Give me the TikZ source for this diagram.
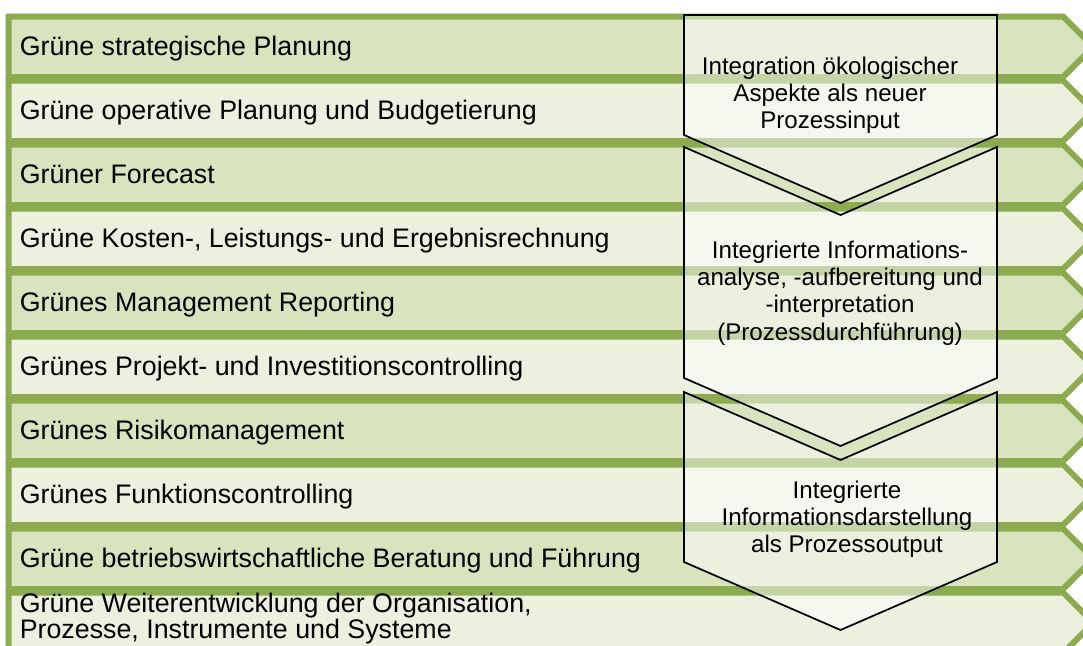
\documentclass[tikz,border=0pt]{standalone}
\usepackage{fontspec}
\setmainfont{Liberation Sans}
\definecolor{grborder}{RGB}{140,170,80}
\definecolor{grdark}{RGB}{215,228,189}
\definecolor{grlight}{RGB}{235,241,222}
\newcommand{\clines}[1]{\begin{tabular}[t]{@{}c@{}}#1\end{tabular}}
\newcommand{\llines}[1]{\begin{tabular}[t]{@{}l@{}}#1\end{tabular}}
\tikzset{
  rowbox/.style={draw=grborder, line width=4.5pt, line join=miter},
  chev/.style={draw=black, line width=1.3pt, fill=white, fill opacity=0.5, line join=miter},
  rowtext/.style={anchor=base west, inner sep=0pt, text=black,
    font=\fontsize{20.1pt}{18.75pt}\selectfont},
  chevtext/.style={anchor=base, inner sep=0pt, text=black,
    font=\fontsize{18.1pt}{20.6pt}\selectfont},
}
\begin{document}
\begin{tikzpicture}[x=0.75pt,y=-0.75pt]
\useasboundingbox (0,0) rectangle (1083,646);
\clip (0,0) rectangle (1083,646);
% row arrows
\foreach \k in {1,...,10} {
  \pgfmathsetmacro\T{16.5+64*(\k-1)}
  \pgfmathsetmacro\B{\T+60.5}
  \pgfmathsetmacro\M{\T+30.25}
  \pgfmathtruncatemacro\odd{mod(\k,2)}
  \ifnum\odd=1 \def\fc{grdark}\else\def\fc{grlight}\fi
  \draw[rowbox, fill=\fc] (8.5,\T) -- (1063,\T) -- (1093.25,\M) -- (1063,\B) -- (8.5,\B) -- cycle;
}
% row labels
\node[rowtext] (t1) at (19.5,55.5) {Grüne strategische Planung};
\node[rowtext] (t2) at (19.5,119.5) {Grüne operative Planung und Budgetierung};
\node[rowtext] (t3) at (19.5,183.5) {Grüner Forecast};
\node[rowtext] (t4) at (19.5,247.5) {Grüne Kosten-, Leistungs- und Ergebnisrechnung};
\node[rowtext] (t5) at (19.5,311.5) {Grünes Management Reporting};
\node[rowtext] (t6) at (19.5,375.5) {Grünes Projekt- und Investitionscontrolling};
\node[rowtext] (t7) at (19.5,439.5) {Grünes Risikomanagement};
\node[rowtext] (t8) at (19.5,503.5) {Grünes Funktionscontrolling};
\node[rowtext] (t9) at (19.5,567.5) {Grüne betriebswirtschaftliche Beratung und Führung};
\node[rowtext] (t10) at (19.5,612) {\llines{Grüne Weiterentwicklung der Organisation,\\ Prozesse, Instrumente und Systeme}};
% chevrons
\draw[chev] (684,15) -- (997,15) -- (997,135) -- (840.5,203) -- (684,135) -- cycle;
\draw[chev] (684,147) -- (840.5,215) -- (997,147) -- (997,378) -- (840.5,446) -- (684,378) -- cycle;
\draw[chev] (684,392) -- (840.5,460) -- (997,392) -- (997,562) -- (840.5,630) -- (684,562) -- cycle;
% chevron texts
\node[chevtext] (c1) at (830,74) {\clines{Integration ökologischer\\ Aspekte als neuer\\ Prozessinput}};
\node[chevtext] (c2) at (840,258) {\clines{Integrierte Informations-\\ analyse, -aufbereitung und\\ -interpretation\\ (Prozessdurchführung)}};
\node[chevtext] (c3) at (847,498) {\clines{Integrierte\\ Informationsdarstellung\\ als Prozessoutput}};
\end{tikzpicture}
\end{document}
